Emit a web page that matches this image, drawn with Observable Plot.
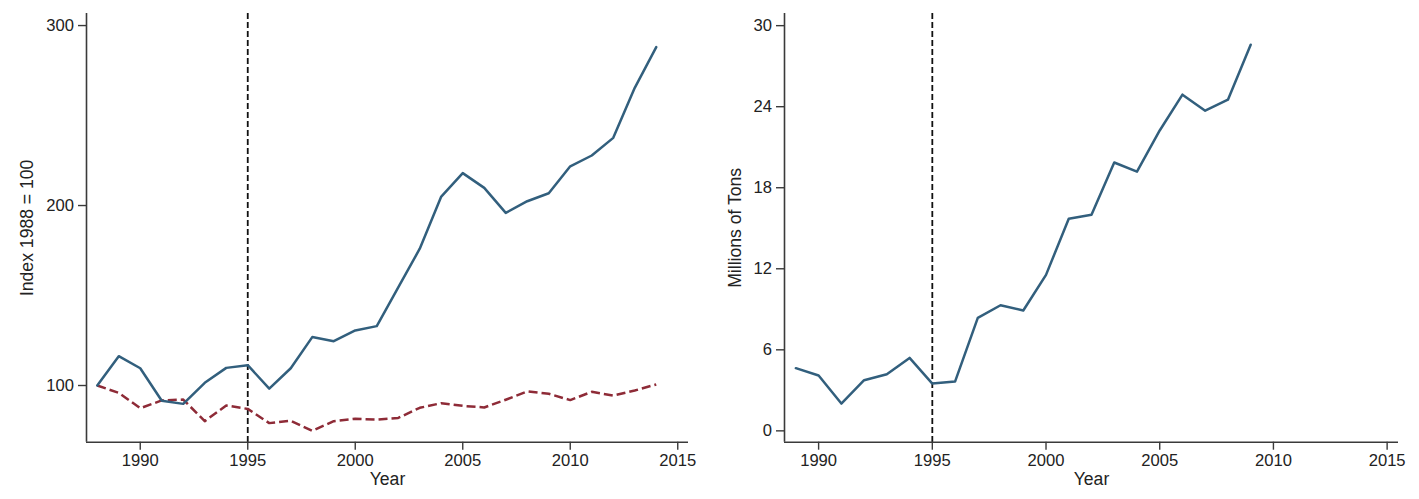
<!DOCTYPE html>
<html>
<head>
<meta charset="utf-8">
<script src="https://cdn.jsdelivr.net/npm/d3@7"></script>
<script src="https://cdn.jsdelivr.net/npm/@observablehq/plot@0.6"></script>
<style>
  body { margin: 0; background: #fff; }
  #wrap { display: flex; width: 1419px; height: 499px; }
  #wrap svg { display: block; }
</style>
</head>
<body>
<div id="wrap"></div>
<script>
// Left panel: index series, 1988 = 100
const indexYears = [1988, 1989, 1990, 1991, 1992, 1993, 1994, 1995, 1996, 1997, 1998, 1999, 2000,
  2001, 2002, 2003, 2004, 2005, 2006, 2007, 2008, 2009, 2010, 2011, 2012, 2013, 2014];
const indexSolid = [100, 116.3, 109.6, 91.5, 89.8, 101.5, 109.8, 111.3, 98.3, 109.6, 126.9, 124.6, 130.6,
  133, 154.5, 176, 205, 218, 209.8, 195.9, 202.4, 206.8, 221.8, 227.8, 237.6, 265.4, 288];
const indexDashed = [100, 95.9, 87.4, 91.7, 92.2, 80.2, 88.9, 87, 79.1, 80.4, 74.8, 80.2, 81.5,
  81.1, 82, 87.6, 90.2, 88.7, 87.8, 92.1, 96.7, 95.4, 91.9, 96.5, 94.4, 97.2, 100.6];

// Right panel: volume in millions of tons
const tonsYears = [1989, 1990, 1991, 1992, 1993, 1994, 1995, 1996, 1997, 1998, 1999, 2000,
  2001, 2002, 2003, 2004, 2005, 2006, 2007, 2008, 2009];
const tons = [4.64, 4.1, 2.02, 3.75, 4.19, 5.4, 3.5, 3.65, 8.37, 9.3, 8.91, 11.55,
  15.7, 16.0, 19.87, 19.19, 22.24, 24.89, 23.7, 24.52, 28.59];

// Tick values and labels
const yearTicks = [1990, 1995, 2000, 2005, 2010, 2015];
const indexTicks = [100, 200, 300];
const tonsTicks = [0, 6, 12, 18, 24, 30];
const markerYear = 1995;
const xLabel = "Year";
const leftYLabel = "Index 1988 = 100";
const rightYLabel = "Millions of Tons";

const blue = "#325f7d";
const red = "#8e2b37";
const axisColor = "#3a3a3a";
const textColor = "#222";
const tickFont = 16.6;
const titleFont = 17.6;

const indexRows = indexYears.map((year, i) => ({year, solid: indexSolid[i], dashed: indexDashed[i]}));
const tonsRows = tonsYears.map((year, i) => ({year, value: tons[i]}));

const style = {
  fontFamily: "'Liberation Sans', Arial, Helvetica, sans-serif",
  fontSize: `${tickFont}px`,
  color: textColor,
  background: "white",
  overflow: "visible"
};

function panel({width, marginLeft, xDomain, yDomain, yTicks, yLabel, yLabelDx, lines}) {
  return Plot.plot({
    width,
    height: 499,
    marginLeft,
    marginRight: 21,
    marginTop: 13,
    marginBottom: 57.3,
    style,
    x: {domain: xDomain},
    y: {domain: yDomain},
    marks: [
      Plot.ruleX([xDomain[0]], {stroke: axisColor, strokeWidth: 1.6}),
      Plot.ruleY([yDomain[0]], {stroke: axisColor, strokeWidth: 1.6}),
      Plot.axisX({ticks: yearTicks, tickFormat: "d", tickSize: 8, tickPadding: 4,
        stroke: axisColor, strokeWidth: 1.4, fill: textColor, fontSize: tickFont, label: null}),
      Plot.axisY({ticks: yTicks, tickFormat: "d", tickSize: 8, tickPadding: 4.5,
        stroke: axisColor, strokeWidth: 1.4, fill: textColor, fontSize: tickFont, label: null}),
      Plot.ruleX([markerYear], {stroke: "#111", strokeWidth: 1.8, strokeDasharray: "6,3"}),
      ...lines,
      Plot.text([xLabel], {frameAnchor: "bottom", dy: 37.5, lineAnchor: "middle",
        textAnchor: "middle", fill: textColor, fontSize: titleFont}),
      Plot.text([yLabel], {frameAnchor: "left", dx: yLabelDx, rotate: -90, lineAnchor: "middle",
        textAnchor: "middle", fill: textColor, fontSize: titleFont})
    ]
  });
}

const left = panel({
  width: 709,
  marginLeft: 86,
  xDomain: [1987.5, 2015.5],
  yDomain: [68.5, 306.7],
  yTicks: indexTicks,
  yLabel: leftYLabel,
  yLabelDx: -59,
  lines: [
    Plot.line(indexRows, {x: "year", y: "dashed", stroke: red, strokeWidth: 2.5, strokeDasharray: "9,4",
      strokeLinecap: "butt"}),
    Plot.line(indexRows, {x: "year", y: "solid", stroke: blue, strokeWidth: 2.5})
  ]
});

const right = panel({
  width: 710,
  marginLeft: 75,
  xDomain: [1988.5, 2015.5],
  yDomain: [-0.84, 30.9],
  yTicks: tonsTicks,
  yLabel: rightYLabel,
  yLabelDx: -49,
  lines: [
    Plot.line(tonsRows, {x: "year", y: "value", stroke: blue, strokeWidth: 2.5})
  ]
});

const wrap = document.getElementById("wrap");
wrap.appendChild(left);
wrap.appendChild(right);
</script>
</body>
</html>
